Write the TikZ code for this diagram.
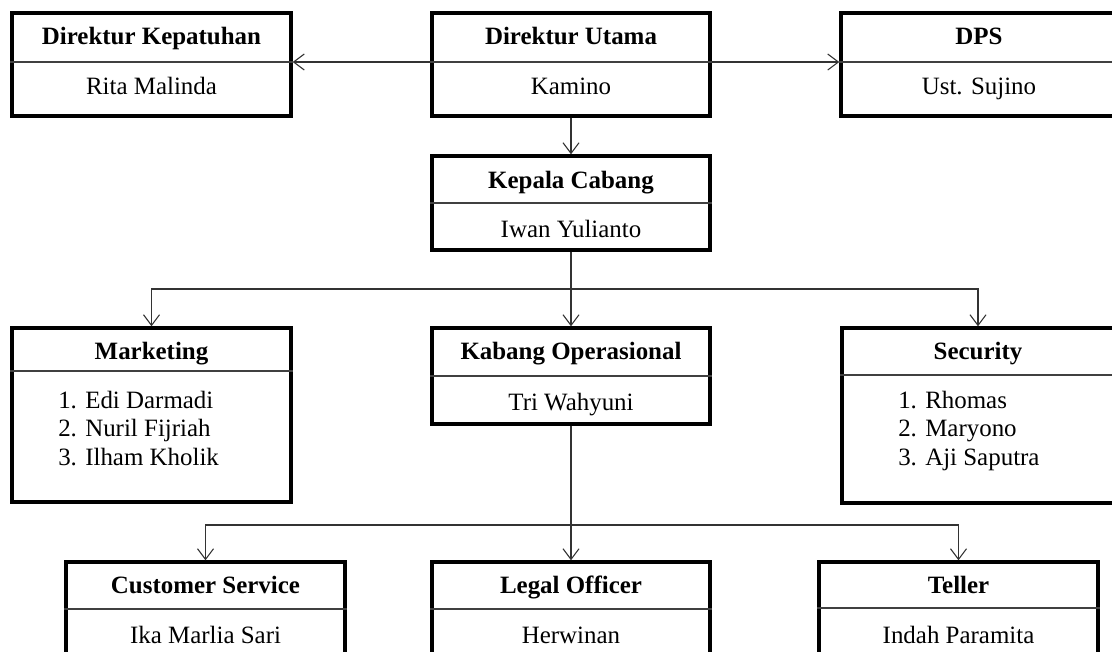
\documentclass[tikz,border=0pt]{standalone}
\usepackage{fontspec}
\setmainfont{Liberation Serif}
\usetikzlibrary{fit,arrows.meta}

\tikzset{
  frame/.style={draw, line width=2.6pt, inner sep=0pt},
  divider/.style={draw=black!75, line width=1.1pt},
  title/.style={font=\fontsize{18.7}{22}\selectfont\bfseries, anchor=base, inner sep=0pt},
  person/.style={font=\fontsize{18.7}{22}\selectfont, anchor=base, inner sep=0pt},
  member/.style={font=\fontsize{18.7}{22}\selectfont, anchor=base west, inner sep=0pt},
  conn/.style={draw=black!80, line width=0.8pt, -{Straight Barb[length=8pt,width=12pt]}},
}

\begin{document}
\begin{tikzpicture}[x=0.75pt, y=-0.75pt]
\useasboundingbox (0,0) rectangle (1112,651);
\clip (0,0) rectangle (1112,651);

% top row
\node[frame, fit={(12,13) (291,116)}] (kepatuhan) {};
\draw[divider] (kepatuhan.west |- 0,62) -- (kepatuhan.east |- 0,62);
\node[title] (kepatuhanT) at (151.5,44) {Direktur Kepatuhan};
\node[person] (kepatuhanN) at (151.5,94) {Rita Malinda};

\node[frame, fit={(432,13) (710,116)}] (utama) {};
\draw[divider] (utama.west |- 0,62) -- (utama.east |- 0,62);
\node[title] (utamaT) at (571,44) {Direktur Utama};
\node[person] (utamaN) at (571,94) {Kamino};

\node[frame, fit={(841,13) (1114,116)}] (dps) {};
\draw[divider] (dps.west |- 0,62) -- (dps.east |- 0,62);
\node[title] (dpsT) at (979,44) {DPS};
\node[person] (dpsN) at (979,94) {Ust. Sujino};

% second row
\node[frame, fit={(432,156) (710,250)}] (kepala) {};
\draw[divider] (kepala.west |- 0,203) -- (kepala.east |- 0,203);
\node[title] (kepalaT) at (571,188) {Kepala Cabang};
\node[person] (kepalaN) at (571,237) {Iwan Yulianto};

% third row
\node[frame, fit={(12,328) (291,502)}] (marketing) {};
\draw[divider] (marketing.west |- 0,371) -- (marketing.east |- 0,371);
\node[title] (marketingT) at (151.5,359) {Marketing};
\node[member] (marketing1) at (58,408) {1. Edi Darmadi};
\node[member] (marketing2) at (58,436.5) {2. Nuril Fijriah};
\node[member] (marketing3) at (58,465) {3. Ilham Kholik};

\node[frame, fit={(432,328) (710,424)}] (kabang) {};
\draw[divider] (kabang.west |- 0,376) -- (kabang.east |- 0,376);
\node[title] (kabangT) at (571,359) {Kabang Operasional};
\node[person] (kabangN) at (571,410) {Tri Wahyuni};

\node[frame, fit={(842,328) (1114,503)}] (security) {};
\draw[divider] (security.west |- 0,375) -- (security.east |- 0,375);
\node[title] (securityT) at (978,359) {Security};
\node[member] (security1) at (898,408) {1. Rhomas};
\node[member] (security2) at (898,436.5) {2. Maryono};
\node[member] (security3) at (898,465) {3. Aji Saputra};

% bottom row
\node[frame, fit={(66,562) (345,690)}] (cs) {};
\draw[divider] (cs.west |- 0,609) -- (cs.east |- 0,609);
\node[title] (csT) at (205.5,593) {Customer Service};
\node[person] (csN) at (205.5,643) {Ika Marlia Sari};

\node[frame, fit={(432,562) (710,690)}] (legal) {};
\draw[divider] (legal.west |- 0,609) -- (legal.east |- 0,609);
\node[title] (legalT) at (571,593) {Legal Officer};
\node[person] (legalN) at (571,643) {Herwinan};

\node[frame, fit={(819,562) (1098,690)}] (teller) {};
\draw[divider] (teller.west |- 0,608) -- (teller.east |- 0,608);
\node[title] (tellerT) at (958.5,593) {Teller};
\node[person] (tellerN) at (958.5,643) {Indah Paramita};

% connectors
\coordinate (bus1) at (571,289);
\coordinate (bus2) at (571,525);

\draw[conn] (utama.west |- 0,62) -- (kepatuhan.east |- 0,62);
\draw[conn] (utama.east |- 0,62) -- (dps.west |- 0,62);
\draw[conn] (utama.south) -- (kepala.north);

\draw[conn] (kepala.south) -- (bus1) -| (marketing.north);
\draw[conn] (bus1) -| (security.north);
\draw[conn] (bus1) -- (kabang.north);

\draw[conn] (kabang.south) -- (bus2) -| (cs.north);
\draw[conn] (bus2) -| (teller.north);
\draw[conn] (bus2) -- (legal.north);
\end{tikzpicture}
\end{document}
